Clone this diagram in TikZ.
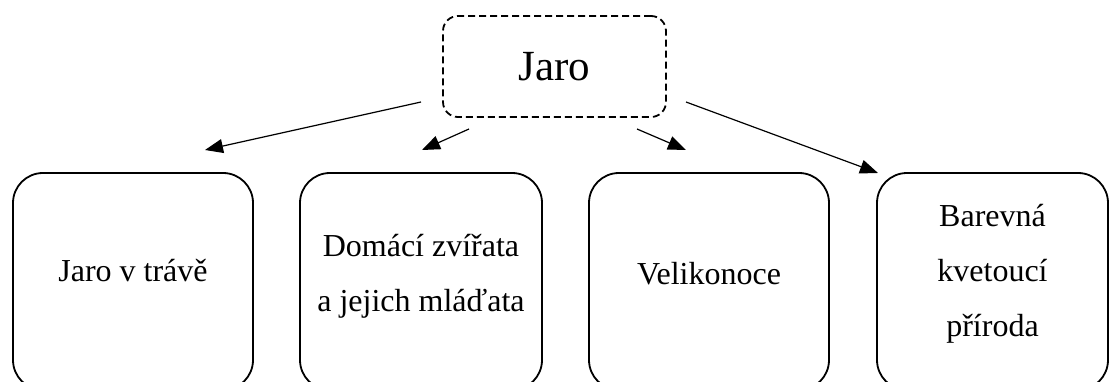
\documentclass[tikz,border=0pt]{standalone}
\usepackage{fontspec}
\setmainfont{Liberation Serif}
\usetikzlibrary{arrows.meta}
\tikzset{
  topbox/.style={draw, line width=1.8pt, dash pattern=on 7pt off 4pt, rounded corners=15pt,
    minimum width=223pt, minimum height=101pt, font=\fontsize{43}{50}\selectfont},
  subbox/.style={draw, line width=1.8pt, rounded corners=30pt, minimum width=240pt, minimum height=217pt},
  subtext/.style={align=center, inner sep=0pt, font=\fontsize{32}{55}\selectfont},
  link/.style={line width=1.2pt, -{Triangle[length=18pt,width=14pt]}}
}
\begin{document}
\begin{tikzpicture}[x=1pt,y=-1pt]
    %\draw[help lines, color=gray!30, dashed] (0,0) grid[step=50] (1111,382);
    \useasboundingbox (0,0) rectangle (1111,382);
    \clip (0,0) rectangle (1111,382);
    \node[topbox] (jaro) at (554.5,66.5) {Jaro};
    \node[subbox] (b1) at (133,281.5) {};
    \node[subbox, minimum width=242pt] (b2) at (421,281.5) {};
    \node[subbox] (b3) at (709,281.5) {};
    \node[subbox, minimum width=231pt] (b4) at (992.5,281.5) {};
    \node[subtext] (t1) at (133,271) {Jaro v trávě};
    \node[subtext] (t2) at (421,276) {Domácí zvířata\\a jejich mláďata};
    \node[subtext] (t3) at (709,274) {Velikonoce};
    \node[subtext] (t4) at (992.5,274) {Barevná\\kvetoucí\\příroda};
    \coordinate (s1) at (421,102);
    \coordinate (e1) at (205,150);
    \coordinate (s2) at (469,129);
    \coordinate (e2) at (422,150);
    \coordinate (s3) at (637,129);
    \coordinate (e3) at (686,150);
    \coordinate (s4) at (686,102);
    \coordinate (e4) at (878,173);
    \draw[link] (s1) -- (e1);
    \draw[link] (s2) -- (e2);
    \draw[link] (s3) -- (e3);
    \draw[link] (s4) -- (e4);
\end{tikzpicture}
\end{document}
